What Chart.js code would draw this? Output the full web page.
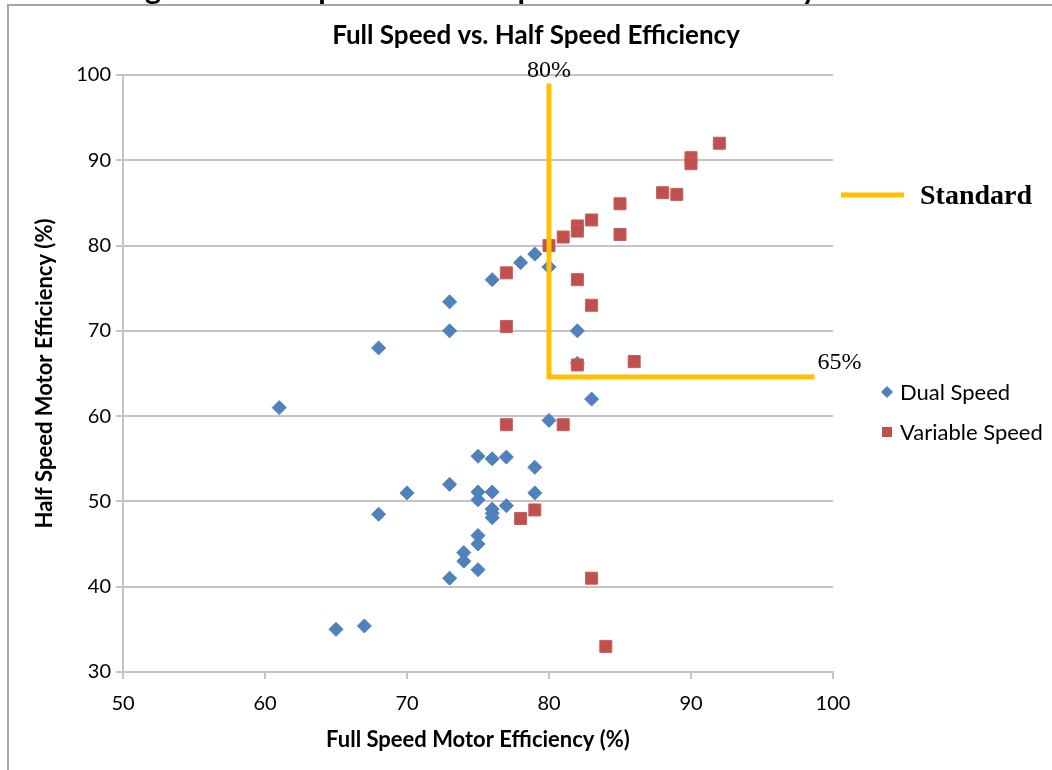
<!DOCTYPE html>
<html>
<head>
<meta charset="utf-8">
<title>Full Speed vs. Half Speed Efficiency</title>
<script src="https://cdn.jsdelivr.net/npm/chart.js@4.4.1/dist/chart.umd.min.js"></script>
<style>
  html, body { margin: 0; padding: 0; background: #fff; }
  #wrap { position: relative; width: 1052px; height: 770px; overflow: hidden; }
</style>
</head>
<body>
<div id="wrap"><canvas id="chart" width="1052" height="770"></canvas></div>
<script>
// Dual speed motors: full speed efficiency vs half speed efficiency (%)
const dualFull = [61, 65, 67, 68, 68, 70, 73, 73, 73, 73, 74, 74, 75, 75, 75, 75, 75, 75,
  76, 76, 76, 76, 76, 76, 77, 77, 78, 79, 79, 79, 80, 80, 82, 82, 83];
const dualHalf = [61, 35, 35.4, 68, 48.5, 51, 73.4, 70, 52, 41, 44, 43, 55.3, 51.1, 50.2, 46, 45, 42,
  76, 55, 51.1, 49.1, 48.6, 48.1, 55.2, 49.5, 78, 79, 54, 51, 77.5, 59.5, 70, 66.2, 62];

// Variable speed motors
const varFull = [77, 77, 77, 78, 79, 80, 81, 81, 82, 82, 82, 82, 83, 83, 83, 84, 85, 85, 86, 88, 89, 90, 90, 92];
const varHalf = [76.8, 70.5, 59, 48, 49, 80, 81, 59, 82.3, 81.7, 76, 66, 83, 73, 41, 33, 84.9, 81.3, 66.4, 86.2, 86, 90.3, 89.6, 92];

// Standard: 80% full speed, 65% half speed
const stdFull = [80, 80, 98.7];
const stdHalf = [99, 64.6, 64.6];
const stdLabels = ['80%', '65%'];

const xMin = 50, xMax = 100, yMin = 30, yMax = 100, tickStep = 10;

const chartTitle = 'Full Speed vs. Half Speed Efficiency';
const pageHeading = 'Figure 6: Full Speed vs. Half Speed Motor Efficiency';

const toPoints = (xs, ys) => xs.map((x, i) => ({ x, y: ys[i] }));

const SANS = 'Lato, "Open Sans", sans-serif';
const SERIF = '"Liberation Serif", "DejaVu Serif", serif';
const BLUE = '#4f81bd';
const RED = '#c0504d';
const GOLD = '#ffc000';
const GRID = '#c4c4c4';

// frame, titles, side labels and legend drawn on the canvas
const overlay = {
  id: 'overlay',
  beforeDraw(chart) {
    const ctx = chart.ctx;
    ctx.save();
    ctx.fillStyle = '#fff';
    ctx.fillRect(0, 0, chart.width, chart.height);

    // heading of the page above, cut off by the top edge
    ctx.fillStyle = '#000';
    ctx.font = 'bold 100px ' + SANS;
    const gStart = ctx.measureText('Fi').width;
    const yStart = ctx.measureText(pageHeading.slice(0, pageHeading.length - 1)).width;
    const size = 100 * (810 - 153) / (yStart - gStart);
    ctx.font = 'bold ' + size.toFixed(1) + 'px ' + SANS;
    const gOff = ctx.measureText('Fi').width + ctx.measureText('g').width / 2;
    ctx.textBaseline = 'alphabetic';
    ctx.textAlign = 'left';
    ctx.fillText(pageHeading, 153 - gOff, -1);

    // chart frame
    ctx.strokeStyle = '#a6a6a6';
    ctx.lineWidth = 2;
    ctx.beginPath();
    ctx.moveTo(8, chart.height + 5);
    ctx.lineTo(8, 5);
    ctx.lineTo(chart.width + 5, 5);
    ctx.stroke();

    // chart title
    ctx.font = 'bold 26px ' + SANS;
    ctx.textAlign = 'center';
    ctx.textBaseline = 'middle';
    ctx.fillText(chartTitle, 536, 36);
    ctx.restore();
  },
  afterDraw(chart) {
    const { ctx, scales: { x, y } } = chart;
    ctx.save();
    ctx.fillStyle = '#000';
    ctx.font = '24px ' + SERIF;
    ctx.textBaseline = 'alphabetic';
    ctx.textAlign = 'center';
    ctx.fillText(stdLabels[0], x.getPixelForValue(stdFull[0]), y.getPixelForValue(stdHalf[0]) - 7);
    ctx.textAlign = 'left';
    ctx.fillText(stdLabels[1], x.getPixelForValue(stdFull[2]) + 3, y.getPixelForValue(stdHalf[2]) - 8);

    // legend
    const ds = chart.data.datasets;
    ctx.strokeStyle = ds[0].borderColor;
    ctx.lineWidth = 5;
    ctx.beginPath();
    ctx.moveTo(841, 195);
    ctx.lineTo(904, 195);
    ctx.stroke();
    ctx.font = 'bold 28px ' + SERIF;
    ctx.textBaseline = 'middle';
    ctx.fillText(ds[0].label, 920, 197);

    ctx.font = '22px ' + SANS;
    ctx.fillStyle = ds[1].backgroundColor;
    ctx.beginPath();
    ctx.moveTo(887, 386); ctx.lineTo(893, 392); ctx.lineTo(887, 398); ctx.lineTo(881, 392);
    ctx.closePath();
    ctx.fill();
    ctx.fillStyle = ds[2].backgroundColor;
    ctx.fillRect(882, 427, 10, 10);
    ctx.fillStyle = '#000';
    ctx.fillText(ds[1].label, 900, 393);
    ctx.fillText(ds[2].label, 900, 433);
    ctx.restore();
  }
};

const ctx = document.getElementById('chart').getContext('2d');

new Chart(ctx, {
  type: 'scatter',
  data: {
    datasets: [
      {
        label: 'Standard',
        data: toPoints(stdFull, stdHalf),
        order: 0,
        showLine: true,
        borderColor: GOLD,
        borderWidth: 5,
        borderJoinStyle: 'miter',
        borderCapStyle: 'butt',
        pointRadius: 0,
        fill: false
      },
      {
        label: 'Dual Speed',
        data: toPoints(dualFull, dualHalf),
        order: 2,
        pointStyle: 'rectRot',
        pointRadius: 7,
        backgroundColor: BLUE,
        borderColor: BLUE,
        borderWidth: 1
      },
      {
        label: 'Variable Speed',
        data: toPoints(varFull, varHalf),
        order: 1,
        pointStyle: 'rect',
        pointRadius: 8.5,
        backgroundColor: RED,
        borderColor: '#c95f5c',
        borderWidth: 1
      }
    ]
  },
  options: {
    responsive: false,
    animation: false,
    devicePixelRatio: 1,
    layout: { padding: { top: 75, right: 219, bottom: 0, left: 0 } },
    plugins: {
      legend: { display: false },
      tooltip: { enabled: false },
      title: { display: false }
    },
    scales: {
      x: {
        type: 'linear',
        min: xMin,
        max: xMax,
        afterFit: s => { s.height = 98; },
        ticks: { stepSize: tickStep, color: '#000', padding: 13, font: { family: SANS, size: 20 } },
        grid: { drawOnChartArea: false, drawTicks: true, tickLength: 7, color: GRID, lineWidth: 2 },
        border: { display: true, color: GRID, width: 2 },
        title: {
          display: true,
          text: 'Full Speed Motor Efficiency (%)',
          color: '#000',
          font: { family: SANS, size: 22, weight: 'bold' },
          padding: { top: 0, bottom: 17 }
        }
      },
      y: {
        type: 'linear',
        min: yMin,
        max: yMax,
        afterFit: s => { s.width = 123; },
        ticks: { stepSize: tickStep, color: '#000', padding: 5, font: { family: SANS, size: 20 } },
        grid: { drawOnChartArea: true, drawTicks: true, tickLength: 7, color: GRID, lineWidth: 2 },
        border: { display: true, color: GRID, width: 2 },
        title: {
          display: true,
          text: 'Half Speed Motor Efficiency (%)',
          color: '#000',
          font: { family: SANS, size: 22, weight: 'bold' },
          padding: { top: 32, bottom: 0 }
        }
      }
    }
  },
  plugins: [overlay]
});
</script>
</body>
</html>
